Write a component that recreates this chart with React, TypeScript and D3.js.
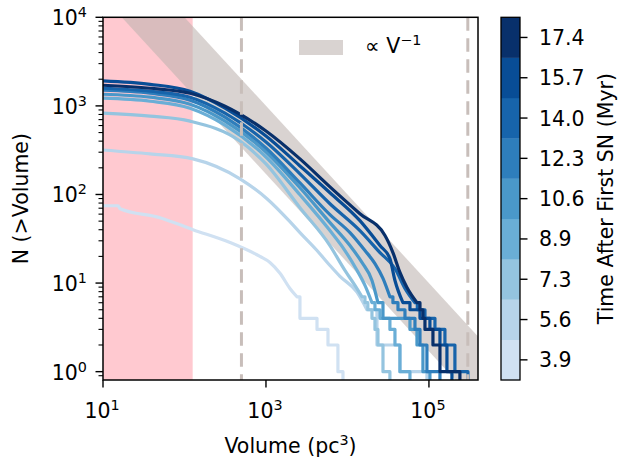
import React from "react";
import * as d3 from "d3";

const W = 619;
const H = 462;

// colour bar bins (Time After First SN, Myr)
const timeLabels = ["3.9", "5.6", "7.3", "8.9", "10.6", "12.3", "14.0", "15.7", "17.4"];
const binColors = ["#d0e1f2", "#b7d4ea", "#94c4df", "#6aaed6", "#4a98c9", "#2e7ebc", "#1764ab", "#084d96", "#08306b"];

// axis ticks
const xTickValues = [10, 1e3, 1e5];
const xTickExp = ["1", "3", "5"];
const yTickValues = [1, 10, 100, 1e3, 1e4];
const yTickExp = ["0", "1", "2", "3", "4"];

// reference lines / regions
const pinkRange = [10, 126];
const dashedV = [500, 3e5];
const bandUpperNV = 1.0e6; // N * V along upper edge of the V^-1 band
const bandLowerNV = 170000; // N * V along lower edge

// cumulative counts N(>V): smooth part [V, N]
const smooth39 = [[10, 74.6], [15.3, 74.6], [16.2, 69], [50, 54.7], [127, 40.1], [362, 28.7], [844, 20], [1119, 17.1], [1486, 12.9], [1968, 8.7], [2399, 7]];
const smooth56 = [[10, 318], [37.8, 287], [127, 252], [480, 150], [1028, 89.5], [1968, 49.3], [2612, 37.1], [4230, 23.3], [6095, 15.8], [8091, 11.9], [13090, 7.9], [17350, 5]];
const smooth73 = [[10, 828], [37.8, 766], [117, 673], [480, 401], [1000, 221], [2612, 70.9], [6095, 26.5], [9310, 13.9], [12360, 9.4], [15060, 7]];
const smooth89 = [[10, 1221], [37.8, 1129], [117, 942], [314, 607], [1000, 265], [2612, 99.2], [6095, 39.1], [9310, 23.3], [12710, 14.6], [16400, 9.4], [19990, 6]];
const smooth106 = [[10, 1353], [37.8, 1253], [117, 1045], [314, 673], [1000, 302], [2612, 119], [6095, 48.1], [10740, 26.5], [15060, 17.1], [19990, 10.7], [23670, 6]];
const smooth123 = [[10, 1501], [37.8, 1389], [117, 1159], [314, 746], [1000, 335], [2612, 135], [6095, 59.2], [10740, 37.1], [16400, 23.3], [21750, 16.6], [27290, 11.3], [33190, 7]];
const smooth140 = [[10, 1581], [37.8, 1463], [117, 1253], [314, 828], [1000, 391], [2612, 171], [6095, 78.6], [14220, 39.1], [25060, 22.1], [38280, 14.6], [50790, 8.7], [67370, 6]];
const smooth157 = [[10, 1919], [37.8, 1753], [117, 1463], [314, 942], [1000, 457], [2612, 210], [6095, 104.5], [14220, 50.6], [25060, 26.5], [33190, 18.9], [38280, 10.7], [47990, 6]];
const smooth174 = [[10, 1709], [37.8, 1581], [117, 1389], [314, 992], [1000, 520], [2612, 252], [6095, 122], [14220, 60.7], [28870, 34.4], [36140, 22.1], [44060, 13.2], [53730, 8.9], [71290, 6]];

// tail steps: [V where N drops, new N]; N = 0 ends the curve
const tail39 = [[2612, 4], [4230, 3], [5768, 2], [7640, 1], [8810, 0]];
const tail56 = [[23010, 2], [44060, 1], [94470, 0]];
const tail73 = [[16400, 6], [17800, 5], [19990, 4], [21750, 3], [23670, 2], [27290, 1], [33190, 0]];
const tail89 = [[21750, 5], [25060, 4], [33190, 3], [38280, 2], [44060, 1], [58480, 0]];
const tail106 = [[27290, 4], [58480, 3], [71290, 2], [84380, 1], [102800, 0]];
const tail123 = [[36140, 6], [41690, 5], [50790, 4], [67370, 3], [77620, 2], [94470, 1], [136500, 0]];
const tail140 = [[72000, 5], [89350, 4], [118500, 3], [157100, 2], [208300, 1], [301300, 0]];
const tail157 = [[58480, 5], [77620, 4], [102800, 3], [136500, 2], [166300, 1], [191500, 0]];
const tail174 = [[77620, 5], [84380, 4], [89350, 3], [112000, 2], [136500, 1], [239900, 0]];

const smoothList = [smooth39, smooth56, smooth73, smooth89, smooth106, smooth123, smooth140, smooth157, smooth174];
const tailList = [tail39, tail56, tail73, tail89, tail106, tail123, tail140, tail157, tail174];

const FONT = "DejaVu Sans";
const FS = 20.5;

const L = 103, R = 478, T = 17.3, B = 380;

export default function App() {
  const x = d3.scaleLog().domain([10, 4e5]).range([L, R]);
  const y = d3.scaleLog().domain([0.805, 1e4]).range([B, T]);
  const cy = d3.scaleLinear().domain([0, 9]).range([B, T]);

  const yOf = (n: number) => (n > 0 ? y(n) : B + 20);

  const line = d3
    .line<number[]>()
    .x((d) => x(d[0]))
    .y((d) => yOf(d[1]));
  const smoothLine = d3
    .line<number[]>()
    .x((d) => x(d[0]))
    .y((d) => yOf(d[1]))
    .curve(d3.curveMonotoneX);

  const curvePath = (smooth: number[][], tail: number[][]) => {
    let p = smoothLine(smooth) || "";
    let last = smooth[smooth.length - 1][1];
    for (const [v, n] of tail) {
      p += `L${x(v)},${yOf(last)}L${x(v)},${yOf(n)}`;
      last = n;
    }
    return p;
  };

  const bandPts = [
    [10, bandUpperNV / 10],
    [4e5, bandUpperNV / 4e5],
    [4e5, bandLowerNV / 4e5],
    [10, bandLowerNV / 10],
  ];
  const bandPath = line(bandPts) + "Z";

  const yMinor = y.ticks().filter((t) => Math.abs(Math.log10(t) - Math.round(Math.log10(t))) > 1e-6);

  const bandFill = "rgb(190,180,176)";
  const bandOpacity = 0.58;

  return (
    <svg width={W} height={H} style={{ position: "absolute", left: 0, top: 0, background: "#fff" }} fontFamily={FONT}>
      <defs>
        <clipPath id="plotclip">
          <rect x={L} y={T} width={R - L} height={B - T} />
        </clipPath>
      </defs>
      <g clipPath="url(#plotclip)">
        <rect x={x(pinkRange[0])} y={T} width={x(pinkRange[1]) - x(pinkRange[0])} height={B - T} fill="#ffc9d0" />
        <path d={bandPath} fill={bandFill} fillOpacity={bandOpacity} />
        {smoothList.map((s, i) => (
          <path key={i} d={curvePath(s, tailList[i])} fill="none" stroke={binColors[i]} strokeWidth={3.2} strokeLinejoin="round" />
        ))}
        {dashedV.map((v, i) => (
          <line key={i} x1={x(v)} x2={x(v)} y1={T} y2={B} stroke="#c8beba" strokeWidth={3} strokeDasharray="13.5 7.5" />
        ))}
      </g>
      {/* legend */}
      <rect x={299} y={40} width={44} height={15} fill={bandFill} fillOpacity={bandOpacity} />
      <text x={365} y={52.7} fontSize={FS} fill="#000">
        ∝ V<tspan fontSize={FS * 0.7} dy={-8}>−1</tspan>
      </text>
      {/* axes box */}
      <rect x={L} y={T} width={R - L} height={B - T} fill="none" stroke="#000" strokeWidth={1.5} />
      {/* x ticks */}
      {xTickValues.map((v, i) => (
        <g key={i}>
          <line x1={x(v)} x2={x(v)} y1={B} y2={B + 7.5} stroke="#000" strokeWidth={1.4} />
          <text x={x(v) - 1} y={418} textAnchor="middle" fontSize={FS} fill="#000">
            10<tspan fontSize={FS * 0.7} dy={-8}>{xTickExp[i]}</tspan>
          </text>
        </g>
      ))}
      {/* y ticks */}
      {yTickValues.map((v, i) => (
        <g key={i}>
          <line x1={L - 7.5} x2={L} y1={y(v)} y2={y(v)} stroke="#000" strokeWidth={1.4} />
          <text x={87} y={y(v) + 8} textAnchor="end" fontSize={FS} fill="#000">
            10<tspan fontSize={FS * 0.7} dy={-8}>{yTickExp[i]}</tspan>
          </text>
        </g>
      ))}
      {yMinor.map((v, i) => (
        <line key={i} x1={L - 4.5} x2={L} y1={y(v)} y2={y(v)} stroke="#000" strokeWidth={1.1} />
      ))}
      {/* axis labels */}
      <text x={(L + R) / 2} y={453} textAnchor="middle" fontSize={FS} fill="#000">
        Volume (pc<tspan fontSize={FS * 0.7} dy={-8}>3</tspan>
        <tspan dy={8}>)</tspan>
      </text>
      <text transform={`translate(28,${(T + B) / 2}) rotate(-90)`} textAnchor="middle" fontSize={FS} fill="#000">
        N (&gt;Volume)
      </text>
      {/* colour bar */}
      {binColors.map((c, i) => (
        <rect key={i} x={501} y={cy(i + 1)} width={19} height={cy(i) - cy(i + 1) + 0.3} fill={c} />
      ))}
      <rect x={501} y={T} width={19} height={B - T} fill="none" stroke="#000" strokeWidth={1.3} />
      {timeLabels.map((t, i) => (
        <g key={i}>
          <line x1={520} x2={527.5} y1={cy(i + 0.5)} y2={cy(i + 0.5)} stroke="#000" strokeWidth={1.4} />
          <text x={539} y={cy(i + 0.5) + 7.5} fontSize={FS} fill="#000">
            {t}
          </text>
        </g>
      ))}
      <text transform={`translate(613,${(T + B) / 2}) rotate(-90)`} textAnchor="middle" fontSize={FS} fill="#000">
        Time After First SN (Myr)
      </text>
    </svg>
  );
}
